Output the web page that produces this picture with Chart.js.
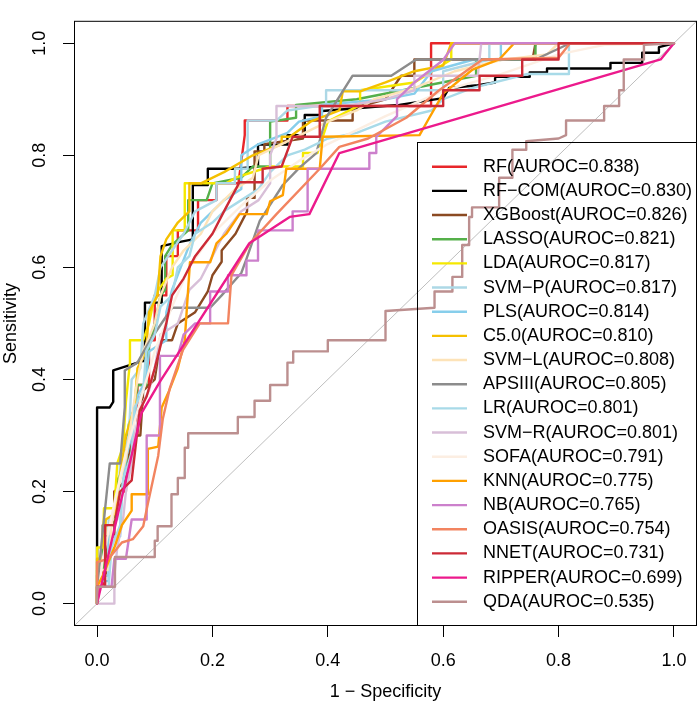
<!DOCTYPE html>
<html>
<head>
<meta charset="utf-8">
<script src="https://cdn.jsdelivr.net/npm/chart.js"></script>
<style>
  html, body { margin: 0; padding: 0; background: #fff; }
  canvas { display: block; }
</style>
</head>
<body>
<canvas id="roc" width="700" height="704"></canvas>
<script>
// model names and AUROC values, in legend order
const modelNames = ['RF', 'RF\u2212COM', 'XGBoost', 'LASSO', 'LDA', 'SVM\u2212P', 'PLS', 'C5.0', 'SVM\u2212L',
  'APSIII', 'LR', 'SVM\u2212R', 'SOFA', 'KNN', 'NB', 'OASIS', 'NNET', 'RIPPER', 'QDA'];
const aurocValues = [0.838, 0.830, 0.826, 0.821, 0.817, 0.817, 0.814, 0.810, 0.808,
  0.805, 0.801, 0.801, 0.791, 0.775, 0.765, 0.754, 0.731, 0.699, 0.535];

const tickValues = [0, 0.2, 0.4, 0.6, 0.8, 1.0];
const tickLabels = ['0.0', '0.2', '0.4', '0.6', '0.8', '1.0'];

// ROC curves as [1 - specificity, sensitivity] pairs
const rocRF = [[0,0],[0,0.03],[0.01,0.03],[0.01,0.14],[0.03,0.14],[0.03,0.2],[0.05,0.2],[0.05,0.3],[0.07,0.3],
  [0.07,0.39],[0.09,0.39],[0.09,0.47],[0.1,0.47],[0.1,0.55],[0.12,0.55],[0.12,0.62],[0.14,0.62],[0.14,0.666],
  [0.175,0.666],[0.175,0.72],[0.207,0.72],[0.207,0.75],[0.245,0.75],[0.256,0.836],[0.256,0.862],[0.33,0.862],
  [0.33,0.888],[0.579,0.888],[0.579,1],[1,1]];
const rocRFCOM = [[0,0],[0,0.35],[0.022,0.35],[0.028,0.36],[0.028,0.416],[0.08,0.433],[0.083,0.433],[0.083,0.537],
  [0.112,0.537],[0.112,0.638],[0.146,0.646],[0.166,0.65],[0.166,0.747],[0.192,0.747],[0.192,0.776],[0.242,0.776],
  [0.279,0.78],[0.279,0.819],[0.33,0.819],[0.33,0.836],[0.36,0.836],[0.36,0.872],[0.386,0.872],[0.39,0.879],
  [0.45,0.884],[0.524,0.89],[0.6,0.902],[0.61,0.92],[0.66,0.925],[0.69,0.93],[0.69,0.94],[0.75,0.94],[0.75,0.948],
  [0.78,0.948],[0.78,0.955],[0.89,0.955],[0.89,0.965],[0.945,0.965],[0.945,0.983],[0.974,0.983],[0.974,0.993],[1,1]];
const rocXGB = [[0,0],[0,0.05],[0.015,0.05],[0.015,0.12],[0.03,0.12],[0.03,0.2],[0.05,0.22],[0.06,0.3],[0.075,0.3],
  [0.08,0.38],[0.1,0.4],[0.11,0.47],[0.13,0.47],[0.14,0.5],[0.17,0.52],[0.192,0.557],[0.2,0.586],[0.216,0.61],
  [0.216,0.63],[0.24,0.66],[0.26,0.7],[0.26,0.724],[0.273,0.724],[0.273,0.807],[0.29,0.807],[0.29,0.82],
  [0.357,0.83],[0.357,0.862],[0.443,0.862],[0.443,0.884],[0.5,0.9],[0.527,0.942],[0.55,0.942],[0.55,0.971],
  [0.755,0.971],[0.76,1],[1,1]];
const rocLASSO = [[0,0],[0,0.06],[0.01,0.06],[0.01,0.14],[0.03,0.14],[0.035,0.22],[0.05,0.25],[0.055,0.32],
  [0.065,0.35],[0.07,0.39],[0.085,0.39],[0.09,0.46],[0.1,0.5],[0.11,0.55],[0.118,0.56],[0.118,0.62],[0.13,0.64],
  [0.158,0.666],[0.158,0.72],[0.19,0.72],[0.2,0.75],[0.25,0.76],[0.27,0.78],[0.3,0.78],[0.3,0.86],[0.345,0.867],
  [0.345,0.89],[0.45,0.9],[0.55,0.92],[0.657,0.942],[0.657,0.971],[0.76,0.971],[0.76,1],[1,1]];
const rocLDA = [[0,0],[0,0.1],[0.01,0.1],[0.012,0.17],[0.03,0.17],[0.035,0.25],[0.045,0.28],[0.05,0.36],
  [0.057,0.43],[0.057,0.47],[0.08,0.47],[0.09,0.5],[0.1,0.55],[0.12,0.58],[0.131,0.586],[0.131,0.666],
  [0.152,0.666],[0.152,0.75],[0.224,0.75],[0.24,0.76],[0.3,0.78],[0.357,0.78],[0.357,0.804],[0.382,0.804],
  [0.4,0.86],[0.456,0.89],[0.456,0.916],[0.55,0.93],[0.614,0.971],[0.614,1],[1,1]];
const rocSVMP = [[0,0],[0,0.05],[0.02,0.05],[0.02,0.15],[0.035,0.15],[0.04,0.25],[0.055,0.3],[0.06,0.4],
  [0.075,0.42],[0.08,0.5],[0.1,0.55],[0.11,0.6],[0.13,0.63],[0.15,0.66],[0.17,0.7],[0.207,0.72],[0.207,0.75],
  [0.239,0.75],[0.239,0.776],[0.261,0.776],[0.261,0.862],[0.311,0.862],[0.33,0.88],[0.397,0.89],[0.397,0.916],
  [0.6,0.916],[0.6,0.95],[0.68,0.971],[0.68,1],[1,1]];
const rocPLS = [[0,0],[0,0.04],[0.02,0.04],[0.02,0.12],[0.04,0.12],[0.043,0.2],[0.05,0.26],[0.06,0.3],[0.07,0.37],
  [0.085,0.4],[0.09,0.45],[0.12,0.47],[0.12,0.52],[0.13,0.56],[0.145,0.6],[0.16,0.64],[0.18,0.68],[0.2,0.7],
  [0.22,0.72],[0.25,0.74],[0.25,0.8],[0.28,0.82],[0.33,0.84],[0.35,0.86],[0.39,0.87],[0.39,0.89],[0.5,0.9],
  [0.55,0.91],[0.58,0.95],[0.65,0.97],[0.7,0.97],[0.7,1],[1,1]];
const rocC50 = [[0,0],[0,0.08],[0.012,0.08],[0.015,0.15],[0.03,0.16],[0.04,0.23],[0.05,0.3],[0.065,0.35],
  [0.07,0.42],[0.085,0.45],[0.09,0.52],[0.105,0.55],[0.11,0.62],[0.12,0.65],[0.14,0.68],[0.16,0.7],[0.16,0.75],
  [0.18,0.75],[0.22,0.77],[0.27,0.8],[0.32,0.82],[0.32,0.833],[0.334,0.833],[0.37,0.86],[0.42,0.88],[0.426,0.914],
  [0.456,0.914],[0.5,0.93],[0.55,0.95],[0.6,0.96],[0.614,1],[1,1]];
const rocSVML = [[0,0],[0,0.06],[0.02,0.06],[0.025,0.14],[0.035,0.2],[0.05,0.26],[0.06,0.33],[0.07,0.4],
  [0.08,0.45],[0.1,0.5],[0.11,0.55],[0.13,0.6],[0.15,0.63],[0.18,0.66],[0.2,0.7],[0.22,0.72],[0.24,0.74],
  [0.27,0.76],[0.28,0.8],[0.32,0.82],[0.36,0.84],[0.4,0.86],[0.45,0.88],[0.48,0.9],[0.55,0.92],[0.62,0.95],
  [0.7,0.97],[0.78,0.98],[0.8,1],[1,1]];
const rocAPSIII = [[0,0],[0.005,0.08],[0.022,0.25],[0.04,0.25],[0.048,0.35],[0.048,0.416],[0.07,0.43],
  [0.092,0.47],[0.13,0.528],[0.196,0.528],[0.216,0.55],[0.25,0.59],[0.259,0.615],[0.282,0.683],[0.322,0.747],
  [0.351,0.778],[0.38,0.804],[0.397,0.867],[0.443,0.942],[0.51,0.942],[0.553,0.971],[0.76,0.971],[0.82,1],[1,1]];
const rocLR = [[0,0],[0,0.03],[0.02,0.03],[0.025,0.1],[0.04,0.14],[0.045,0.22],[0.06,0.27],[0.065,0.35],
  [0.08,0.38],[0.085,0.45],[0.1,0.48],[0.11,0.53],[0.13,0.55],[0.14,0.6],[0.16,0.62],[0.17,0.66],[0.2,0.68],
  [0.22,0.7],[0.25,0.72],[0.28,0.74],[0.3,0.77],[0.33,0.8],[0.36,0.81],[0.4,0.83],[0.45,0.84],[0.5,0.86],
  [0.58,0.88],[0.6,0.9],[0.65,0.92],[0.746,0.945],[0.818,0.945],[0.818,1],[1,1]];
const rocSVMR = [[0,0],[0.03,0],[0.03,0.05],[0.035,0.1],[0.045,0.15],[0.05,0.2],[0.06,0.25],[0.065,0.3],
  [0.075,0.35],[0.09,0.38],[0.1,0.42],[0.11,0.48],[0.14,0.5],[0.16,0.56],[0.18,0.58],[0.2,0.62],[0.22,0.66],
  [0.25,0.7],[0.28,0.72],[0.3,0.75],[0.3,0.8],[0.311,0.83],[0.311,0.888],[0.43,0.888],[0.5,0.9],[0.55,0.916],
  [0.55,0.942],[0.66,0.942],[0.666,1],[1,1]];
const rocSOFA = [[0,0],[0.01,0.08],[0.03,0.18],[0.05,0.27],[0.08,0.38],[0.1,0.45],[0.13,0.53],[0.16,0.6],
  [0.2,0.66],[0.25,0.71],[0.3,0.755],[0.35,0.79],[0.4,0.82],[0.5,0.87],[0.6,0.915],[0.7,0.945],[0.8,0.98],
  [0.88,0.997],[1,1]];
const rocKNN = [[0,0],[0,0.03],[0.01,0.05],[0.03,0.1],[0.043,0.14],[0.06,0.166],[0.06,0.195],[0.088,0.195],
  [0.088,0.276],[0.106,0.28],[0.112,0.35],[0.125,0.38],[0.14,0.42],[0.152,0.47],[0.161,0.609],[0.196,0.609],
  [0.207,0.643],[0.224,0.66],[0.247,0.695],[0.294,0.695],[0.3,0.718],[0.322,0.729],[0.328,0.776],[0.386,0.776],
  [0.391,0.833],[0.559,0.836],[0.576,0.867],[0.6,0.91],[0.651,0.953],[0.697,0.971],[0.723,1],[1,1]];
const rocNB = [[0,0],[0.005,0.03],[0.025,0.03],[0.03,0.08],[0.05,0.08],[0.06,0.15],[0.086,0.15],[0.086,0.3],
  [0.109,0.3],[0.109,0.442],[0.14,0.442],[0.15,0.48],[0.17,0.5],[0.196,0.5],[0.196,0.557],[0.227,0.557],
  [0.227,0.586],[0.259,0.586],[0.259,0.612],[0.279,0.612],[0.279,0.666],[0.339,0.666],[0.339,0.7],[0.365,0.7],
  [0.365,0.776],[0.472,0.776],[0.472,0.804],[0.484,0.804],[0.484,0.833],[0.52,0.87],[0.52,0.9],[0.55,0.93],
  [0.6,0.97],[0.62,1],[1,1]];
const rocOASIS = [[0,0],[0,0.074],[0.02,0.08],[0.043,0.109],[0.062,0.115],[0.08,0.138],[0.088,0.178],
  [0.106,0.264],[0.114,0.33],[0.126,0.384],[0.149,0.453],[0.178,0.5],[0.227,0.5],[0.233,0.586],[0.265,0.643],
  [0.311,0.695],[0.386,0.776],[0.42,0.815],[0.47,0.83],[0.536,0.867],[0.593,0.916],[0.668,0.971],[0.8,0.974],
  [0.82,1],[1,1]];
const rocNNET = [[0,0],[0,0.03],[0.014,0.03],[0.014,0.14],[0.03,0.14],[0.04,0.2],[0.06,0.22],[0.069,0.3],
  [0.074,0.345],[0.086,0.37],[0.1,0.42],[0.12,0.5],[0.13,0.55],[0.15,0.58],[0.17,0.62],[0.2,0.66],[0.22,0.7],
  [0.247,0.752],[0.287,0.752],[0.287,0.776],[0.32,0.78],[0.339,0.833],[0.386,0.833],[0.386,0.888],[0.6,0.888],
  [0.6,0.916],[0.663,0.916],[0.663,0.942],[0.737,0.942],[0.737,0.971],[0.8,0.971],[0.8,1],[1,1]];
const rocRIPPER = [[0,0],[0.077,0.34],[0.109,0.396],[0.264,0.643],[0.334,0.69],[0.368,0.695],[0.42,0.804],
  [0.977,0.971],[1,1]];
const rocQDA = [[0,0],[0,0.03],[0.031,0.03],[0.031,0.083],[0.1,0.083],[0.1,0.112],[0.105,0.112],[0.105,0.138],
  [0.129,0.138],[0.129,0.195],[0.14,0.195],[0.14,0.224],[0.152,0.224],[0.152,0.278],[0.158,0.278],[0.158,0.304],
  [0.244,0.304],[0.244,0.333],[0.273,0.333],[0.273,0.362],[0.3,0.362],[0.3,0.39],[0.33,0.39],[0.33,0.43],
  [0.34,0.43],[0.34,0.45],[0.4,0.45],[0.4,0.47],[0.5,0.47],[0.5,0.522],[0.585,0.528],[0.585,0.557],[0.616,0.557],
  [0.616,0.583],[0.633,0.583],[0.633,0.64],[0.645,0.64],[0.645,0.69],[0.65,0.69],[0.65,0.707],[0.697,0.707],
  [0.697,0.76],[0.72,0.76],[0.72,0.81],[0.744,0.81],[0.744,0.825],[0.8,0.83],[0.813,0.836],[0.813,0.862],
  [0.879,0.862],[0.879,0.888],[0.905,0.888],[0.905,0.916],[0.913,0.916],[0.913,0.971],[0.948,0.971],
  [0.948,0.997],[1,1]];

const rocCurves = [rocRF, rocRFCOM, rocXGB, rocLASSO, rocLDA, rocSVMP, rocPLS, rocC50, rocSVML, rocAPSIII,
  rocLR, rocSVMR, rocSOFA, rocKNN, rocNB, rocOASIS, rocNNET, rocRIPPER, rocQDA];

const lineColors = ['#E8262A', '#000000', '#8B4A22', '#55B04A', '#F5E800', '#ADD8E6', '#87CEEB', '#F5C000',
  '#FDE3B8', '#8C8C8C', '#A8DAE8', '#D8BFD8', '#FCEEE2', '#FFA000', '#CC80CC', '#F28460', '#CC2A36',
  '#EC1A8C', '#BC8F8F'];

const FONT = '"Liberation Sans", Arial, Helvetica, sans-serif';
Chart.defaults.font.family = FONT;
Chart.defaults.font.size = 18;
Chart.defaults.color = '#000';

// build the datasets; first model drawn at the bottom, like R's add=TRUE
const datasets = rocCurves.map((pts, i) => ({
  label: modelNames[i],
  data: pts.map(p => ({ x: p[0], y: p[1] })),
  borderColor: lineColors[i],
  borderWidth: 2.4,
  borderJoinStyle: 'round',
  borderCapStyle: 'round',
  showLine: true,
  pointRadius: 0,
  fill: false,
  tension: 0,
  order: rocCurves.length - i
}));

// reference diagonal over the whole plot box
datasets.push({
  label: 'chance',
  data: [{ x: -0.04, y: -0.04 }, { x: 1.04, y: 1.04 }],
  borderColor: '#BEBEBE',
  borderWidth: 1,
  showLine: true,
  pointRadius: 0,
  order: 100
});

function setTicks(scale) {
  scale.ticks = tickValues.map(v => ({ value: v }));
}

// box round the plot region
const plotBox = {
  id: 'plotBox',
  afterDatasetsDraw(chart) {
    const a = chart.chartArea;
    const ctx = chart.ctx;
    ctx.save();
    ctx.strokeStyle = '#000';
    ctx.lineWidth = 1;
    ctx.strokeRect(a.left + 0.5, a.top + 0.5, a.right - a.left - 1, a.bottom - a.top - 1);
    ctx.restore();
  }
};

// R style legend in the bottom-right corner
const rocLegend = {
  id: 'rocLegend',
  afterDatasetsDraw(chart) {
    const a = chart.chartArea;
    const ctx = chart.ctx;
    const left = 417.5, top = 142.5;
    ctx.save();
    ctx.strokeStyle = '#000';
    ctx.lineWidth = 1;
    ctx.strokeRect(left, top, a.right - 0.5 - left, a.bottom - 0.5 - top);
    ctx.font = '18px ' + FONT;
    ctx.textBaseline = 'middle';
    ctx.textAlign = 'left';
    modelNames.forEach((name, i) => {
      const y = 166.7 + i * 24.17;
      ctx.strokeStyle = lineColors[i];
      ctx.lineWidth = 2.4;
      ctx.beginPath();
      ctx.moveTo(432, y);
      ctx.lineTo(467, y);
      ctx.stroke();
      ctx.fillStyle = '#000';
      ctx.fillText(name + '(AUROC=' + aurocValues[i].toFixed(3) + ')', 483, y);
    });
    ctx.restore();
  }
};

new Chart(document.getElementById('roc'), {
  type: 'scatter',
  data: { datasets },
  options: {
    responsive: false,
    animation: false,
    devicePixelRatio: 1,
    layout: { padding: { top: 0, right: 3, left: 0, bottom: 0 } },
    plugins: {
      legend: { display: false },
      tooltip: { enabled: false }
    },
    scales: {
      x: {
        type: 'linear',
        min: -0.04,
        max: 1.04,
        afterBuildTicks: setTicks,
        afterFit(scale) { scale.height = 78; },
        border: { display: false },
        grid: { drawOnChartArea: false, drawTicks: true, tickLength: 11, color: '#000', lineWidth: 1 },
        ticks: {
          autoSkip: false,
          maxRotation: 0,
          padding: 13,
          callback: (v, i) => tickLabels[i]
        },
        title: { display: true, text: '1 \u2212 Specificity', padding: { top: 0, bottom: 1 } }
      },
      y: {
        type: 'linear',
        min: -0.04,
        max: 1.04,
        afterBuildTicks: setTicks,
        afterFit(scale) { scale.width = 74; },
        border: { display: false },
        grid: { drawOnChartArea: false, drawTicks: true, tickLength: 11, color: '#000', lineWidth: 1 },
        ticks: {
          autoSkip: false,
          minRotation: 90,
          maxRotation: 90,
          crossAlign: 'center',
          padding: 10,
          callback: (v, i) => tickLabels[i]
        },
        title: { display: true, text: 'Sensitivity', padding: { top: 0, bottom: 0 } }
      }
    }
  },
  plugins: [plotBox, rocLegend]
});
</script>
</body>
</html>
